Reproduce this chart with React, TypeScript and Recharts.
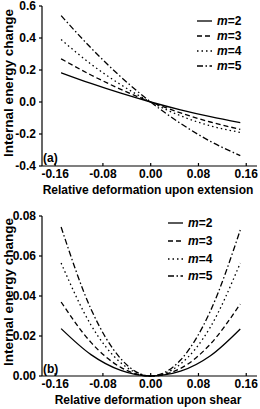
import { LineChart, Line, XAxis, YAxis } from "recharts";

const FONT = "Arial, 'Liberation Sans', Helvetica, sans-serif";
const INK = "#000";

// deformation values (shared by both panels)
const X_VALUES = [-0.15, -0.1, -0.05, 0, 0.05, 0.1, 0.15];
const X_TICKS = [-0.16, -0.08, 0, 0.08, 0.16];

// (a) extension
const EXT_M2 = [0.183, 0.116, 0.055, 0, -0.049, -0.092, -0.129];
const EXT_M3 = [0.27, 0.169, 0.079, 0, -0.068, -0.125, -0.171];
const EXT_M4 = [0.39, 0.237, 0.108, 0, -0.086, -0.149, -0.19];
const EXT_M5 = [0.54, 0.338, 0.157, 0, -0.134, -0.246, -0.335];
const EXT_TICKS = [-0.4, -0.2, 0, 0.2, 0.4, 0.6];

// (b) shear
const SHEAR_M2 = [0.0237, 0.0107, 0.0028, 0, 0.0024, 0.0101, 0.0235];
const SHEAR_M3 = [0.037, 0.0168, 0.0043, 0, 0.0038, 0.016, 0.036];
const SHEAR_M4 = [0.0565, 0.0255, 0.0066, 0, 0.006, 0.0245, 0.0565];
const SHEAR_M5 = [0.0745, 0.0335, 0.0086, 0, 0.008, 0.0325, 0.073];
const SHEAR_TICKS = [0, 0.02, 0.04, 0.06, 0.08];

const SERIES = [
  { key: "m2", name: "2", dash: undefined as string | undefined },
  { key: "m3", name: "3", dash: "5 3" },
  { key: "m4", name: "4", dash: "1.5 3" },
  { key: "m5", name: "5", dash: "6 2.5 1.5 2.5" },
];

const toRows = (cols: number[][]) =>
  X_VALUES.map((x, i) => ({ x, m2: cols[0][i], m3: cols[1][i], m4: cols[2][i], m5: cols[3][i] }));

const extRows = toRows([EXT_M2, EXT_M3, EXT_M4, EXT_M5]);
const shearRows = toRows([SHEAR_M2, SHEAR_M3, SHEAR_M4, SHEAR_M5]);

const TICK_MARGIN = 3;

// x ticks point into the plot
function InwardTick(props: any) {
  const { x, y, payload } = props;
  const axisY = y - TICK_MARGIN;
  return (
    <g>
      <line x1={x} x2={x} y1={axisY} y2={axisY - 3} stroke={INK} strokeWidth={1.2} />
      <text
        x={x}
        y={y}
        dy="0.71em"
        textAnchor="middle"
        fontFamily={FONT}
        fontSize={12}
        fontWeight="bold"
        fill={INK}
      >
        {Number(payload.value).toFixed(2)}
      </text>
    </g>
  );
}

interface PanelProps {
  data: any[];
  height: number;
  top: number;
  yDomain: [number, number];
  yTicks: number[];
  yDigits: number;
}

function Panel({ data, height, top, yDomain, yTicks, yDigits }: PanelProps) {
  return (
    <LineChart
      width={260}
      height={height}
      data={data}
      margin={{ top, right: 3, bottom: 0, left: 0 }}
    >
      <XAxis
        type="number"
        dataKey="x"
        domain={[-0.182, 0.178]}
        ticks={X_TICKS}
        height={height - top - 161 + 1}
        tickSize={0}
        tickMargin={TICK_MARGIN}
        tick={<InwardTick />}
        axisLine={{ stroke: INK, strokeWidth: 1.2 }}
        interval={0}
      />
      <XAxis
        xAxisId="frame"
        orientation="top"
        type="number"
        dataKey="x"
        domain={[-0.182, 0.178]}
        height={0}
        tick={false}
        tickLine={false}
        axisLine={{ stroke: INK, strokeWidth: 1.2 }}
      />
      <YAxis
        type="number"
        domain={yDomain}
        ticks={yTicks}
        width={42}
        interval={0}
        tickSize={3}
        tickMargin={3}
        tickLine={{ stroke: INK, strokeWidth: 1.2 }}
        axisLine={{ stroke: INK, strokeWidth: 1.2 }}
        tick={{ fill: INK, fontSize: 12, fontWeight: "bold", fontFamily: FONT }}
        tickFormatter={(v: number) => v.toFixed(yDigits)}
      />
      <YAxis
        yAxisId="frame"
        orientation="right"
        width={0}
        tick={false}
        tickLine={false}
        axisLine={{ stroke: INK, strokeWidth: 1.2 }}
      />
      {SERIES.map((s) => (
        <Line
          key={s.key}
          dataKey={s.key}
          type="monotone"
          stroke={INK}
          strokeWidth={1.3}
          strokeDasharray={s.dash}
          dot={false}
          isAnimationActive={false}
        />
      ))}
    </LineChart>
  );
}

function Legend({ x, rows }: { x: number; rows: number[] }) {
  return (
    <g>
      {SERIES.map((s, i) => (
        <g key={s.key}>
          <line
            x1={x}
            x2={x + 15}
            y1={rows[i]}
            y2={rows[i]}
            stroke={INK}
            strokeWidth={1.3}
            strokeDasharray={s.dash}
          />
          <text x={x + 20} y={rows[i] + 4.3} fontSize={12} fontWeight="bold" fill={INK}>
            <tspan fontStyle="italic">m</tspan>={s.name}
          </text>
        </g>
      ))}
    </g>
  );
}

export default function App() {
  return (
    <div style={{ position: "absolute", left: 0, top: 0, width: 260, height: 409, background: "#fff" }}>
      <div style={{ position: "absolute", left: 0, top: 0 }}>
        <Panel data={extRows} height={205} top={6} yDomain={[-0.4, 0.6]} yTicks={EXT_TICKS} yDigits={1} />
      </div>
      <div style={{ position: "absolute", left: 0, top: 205 }}>
        <Panel data={shearRows} height={204} top={11} yDomain={[0, 0.08]} yTicks={SHEAR_TICKS} yDigits={2} />
      </div>
      <svg
        width={260}
        height={409}
        style={{ position: "absolute", left: 0, top: 0, pointerEvents: "none" }}
        fontFamily={FONT}
      >
        <text transform="translate(12.5, 83) rotate(-90)" textAnchor="middle" fontSize={13.5} fontWeight="bold" fill={INK}>
          Internal energy change
        </text>
        <text transform="translate(12.5, 292) rotate(-90)" textAnchor="middle" fontSize={13.5} fontWeight="bold" fill={INK}>
          Internal energy change
        </text>
        <text x={148} y={194} textAnchor="middle" fontSize={12} fontWeight="bold" fill={INK}>
          Relative deformation upon extension
        </text>
        <text x={148} y={404} textAnchor="middle" fontSize={12} fontWeight="bold" fill={INK}>
          Relative deformation upon shear
        </text>
        <text x={43} y={162} fontSize={12} fontWeight="bold" fill={INK}>(a)</text>
        <text x={43} y={373} fontSize={12} fontWeight="bold" fill={INK}>(b)</text>
        <Legend x={197} rows={[21, 36, 51, 66]} />
        <Legend x={168} rows={[223, 241, 259, 276]} />
      </svg>
    </div>
  );
}
